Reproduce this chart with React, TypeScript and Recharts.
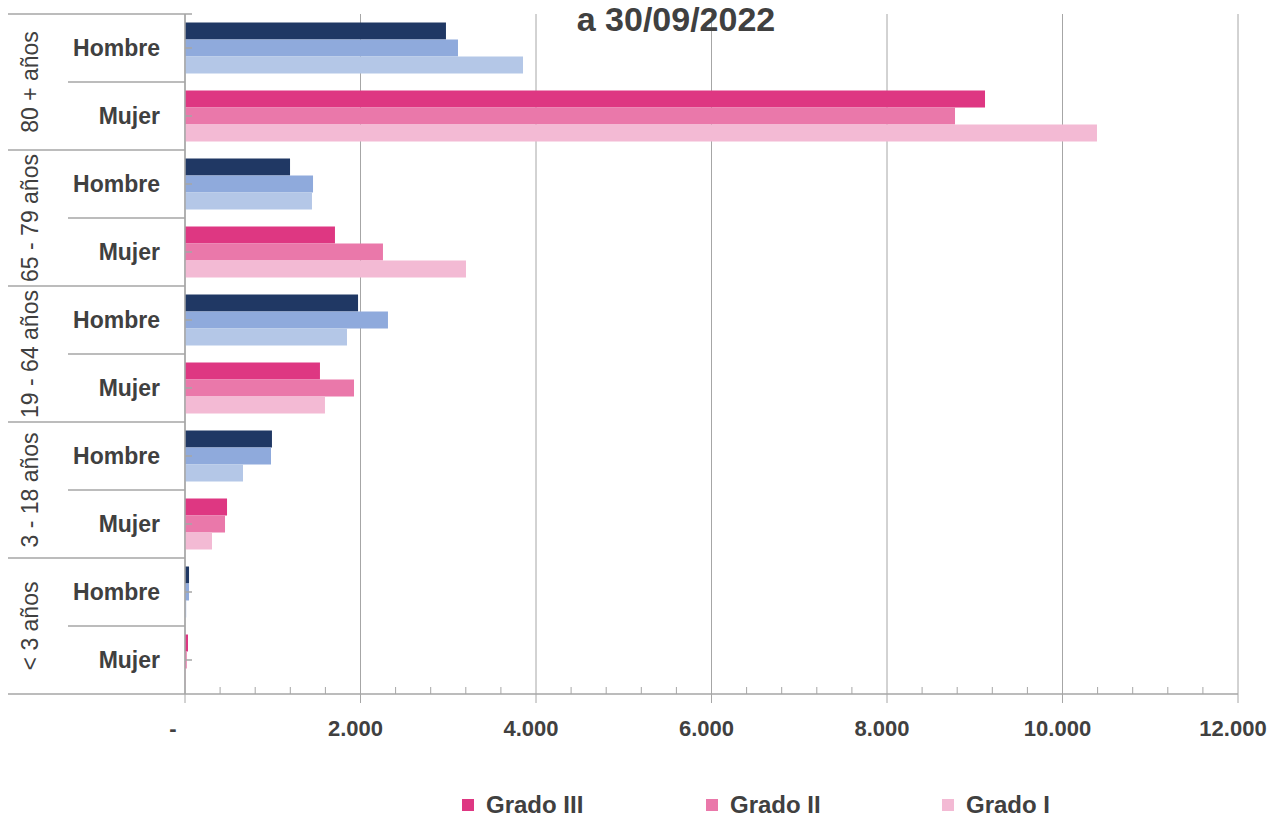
import React from 'react'
import { BarChart, Bar, XAxis, YAxis, CartesianGrid, Legend, Cell } from 'recharts'

// age groups (top to bottom) and sexes inside each group
const groups = ['80 + años', '65 - 79 años', '19 - 64 años', '3 - 18 años', '< 3 años']
const sexes = ['Hombre', 'Mujer']

// one value per row: 80+ H, 80+ M, 65-79 H, 65-79 M, 19-64 H, 19-64 M, 3-18 H, 3-18 M, <3 H, <3 M
const gradoIII = [2974, 9117, 1197, 1709, 1972, 1538, 991, 479, 46, 34]
const gradoII = [3111, 8775, 1459, 2256, 2313, 1926, 980, 456, 46, 20]
const gradoI = [3852, 10393, 1447, 3202, 1846, 1595, 661, 308, 14, 6]

const majorTicks = [0, 2000, 4000, 6000, 8000, 10000, 12000]
const allTicks = [
    0, 400, 800, 1200, 1600, 2000, 2400, 2800, 3200, 3600, 4000,
    4400, 4800, 5200, 5600, 6000, 6400, 6800, 7200, 7600, 8000,
    8400, 8800, 9200, 9600, 10000, 10400, 10800, 11200, 11600, 12000,
]

const seriesKeys = ['g3', 'g2', 'g1']
const legendLabels = ['Grado III', 'Grado II', 'Grado I']
const mujerColors = ['#DE3782', '#EA78AA', '#F3BAD4']
const hombreColors = ['#203864', '#8FAADC', '#B4C7E7']

const rows = groups.flatMap((g, gi) =>
    sexes.map((s, si) => {
        const i = gi * 2 + si
        return { id: `${g}|${s}`, group: g, sex: s, g3: gradoIII[i], g2: gradoII[i], g1: gradoI[i] }
    })
)

const W = 1271
const H = 816
const TOP = 14
const XAXIS_H = 60
const BOTTOM = 62
const HALF = (H - TOP - XAXIS_H - BOTTOM) / rows.length / 2

const FONT = '"Liberation Sans", Arial, sans-serif'
const TEXT = '#404040'
const LINE = '#A6A6A6'

const fmt = (v: number) => (v === 0 ? '-' : v.toLocaleString('de-DE'))

const XTick = ({ x, y, payload }: any) => {
    const v = payload.value
    const major = v % 2000 === 0
    return (
        <g>
            {major ? (
                <line x1={x} x2={x} y1={y} y2={y + 9} stroke={LINE} strokeWidth={1} />
            ) : (
                <line x1={x} x2={x} y1={y - 7} y2={y} stroke={LINE} strokeWidth={1} />
            )}
            {major && (
                <text
                    x={v === 0 ? x - 12 : x - 5}
                    y={y + 34}
                    textAnchor="middle"
                    dominantBaseline="central"
                    fontFamily={FONT}
                    fontWeight="bold"
                    fontSize={22}
                    fill={TEXT}
                >
                    {fmt(v)}
                </text>
            )}
        </g>
    )
}

const YTick = ({ x, y, payload }: any) => {
    const row = rows.find((r) => r.id === payload.value)
    if (!row) return null
    const isMujer = row.sex === 'Mujer'
    const first = row.id === rows[0].id
    return (
        <g>
            <text
                x={x - 25}
                y={y}
                textAnchor="end"
                dominantBaseline="central"
                fontFamily={FONT}
                fontWeight="bold"
                fontSize={23}
                fill={TEXT}
            >
                {row.sex}
            </text>
            <line x1={x} x2={x + 7} y1={y} y2={y} stroke={LINE} strokeWidth={1.5} />
            <line x1={isMujer ? 8 : 68} x2={x} y1={y + HALF} y2={y + HALF} stroke={LINE} strokeWidth={1.5} />
            {first && <line x1={8} x2={x + 7} y1={y - HALF} y2={y - HALF} stroke={LINE} strokeWidth={1.5} />}
            {isMujer && (
                <text
                    transform={`translate(38, ${y - HALF}) rotate(-90)`}
                    textAnchor="middle"
                    fontFamily={FONT}
                    fontSize={23}
                    fill={TEXT}
                >
                    {row.group}
                </text>
            )}
        </g>
    )
}

const legendLeft = [462, 706, 942]

const LegendContent = () => (
    <div style={{ position: 'relative', width: W, height: 26, fontFamily: FONT }}>
        {legendLabels.map((label, i) => (
            <div
                key={label}
                style={{ position: 'absolute', left: legendLeft[i], top: 0, display: 'flex', alignItems: 'center' }}
            >
                <span style={{ display: 'inline-block', width: 12, height: 12, background: mujerColors[i], marginRight: 12 }} />
                <span style={{ fontSize: 24, fontWeight: 'bold', color: TEXT }}>{label}</span>
            </div>
        ))}
    </div>
)

export default function App() {
    return (
        <div style={{ position: 'absolute', left: 0, top: 0, width: W, height: H, background: '#fff' }}>
            <div
                style={{
                    position: 'absolute',
                    left: 0,
                    width: 1352,
                    top: 0,
                    textAlign: 'center',
                    fontFamily: FONT,
                    fontWeight: 'bold',
                    fontSize: 34,
                    lineHeight: '38px',
                    color: TEXT,
                    zIndex: 2,
                    pointerEvents: 'none',
                }}
            >
                a 30/09/2022
            </div>
            <BarChart
                width={W}
                height={H}
                data={rows}
                layout="vertical"
                margin={{ top: TOP, right: 33, bottom: BOTTOM, left: 0 }}
                barCategoryGap="12.5%"
                barGap={0}
            >
                <CartesianGrid horizontal={false} vertical verticalValues={majorTicks} stroke={LINE} strokeWidth={1} />
                <XAxis
                    type="number"
                    domain={[0, 12000]}
                    ticks={allTicks}
                    interval={0}
                    height={XAXIS_H}
                    tickLine={false}
                    tickSize={0}
                    tickMargin={0}
                    axisLine={{ stroke: LINE, strokeWidth: 1.5 }}
                    tick={<XTick />}
                />
                <YAxis
                    type="category"
                    dataKey="id"
                    width={185}
                    interval={0}
                    tickLine={false}
                    tickSize={0}
                    tickMargin={0}
                    axisLine={{ stroke: LINE, strokeWidth: 1.5 }}
                    tick={<YTick />}
                />
                <Legend
                    layout="horizontal"
                    verticalAlign="middle"
                    align="center"
                    content={<LegendContent />}
                    wrapperStyle={{ top: 791, left: 0, width: W }}
                />
                {seriesKeys.map((k, si) => (
                    <Bar key={k} dataKey={k} name={legendLabels[si]} fill={mujerColors[si]} isAnimationActive={false}>
                        {rows.map((r) => (
                            <Cell key={r.id} fill={r.sex === 'Mujer' ? mujerColors[si] : hombreColors[si]} />
                        ))}
                    </Bar>
                ))}
            </BarChart>
        </div>
    )
}
